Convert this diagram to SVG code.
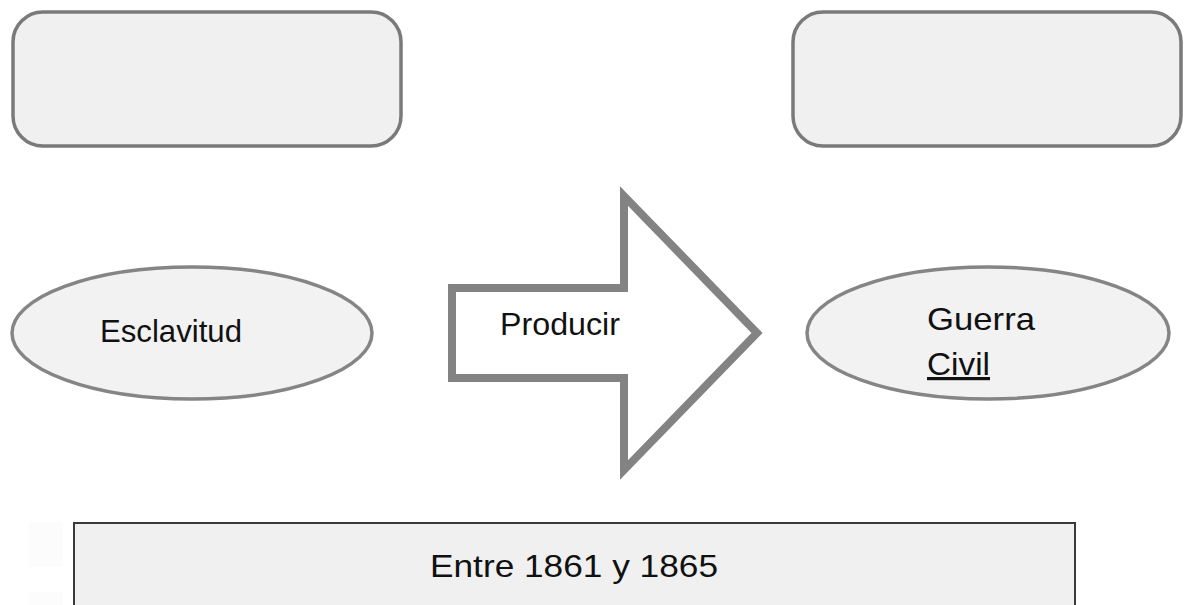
<svg xmlns="http://www.w3.org/2000/svg" width="1187" height="605" viewBox="0 0 1187 605">
  <style>
    .box { fill: #f0f0f0; stroke: #7a7a7a; stroke-width: 3.5; }
    .oval { fill: #f2f2f2; stroke: #858585; stroke-width: 3.5; }
    .arrow { fill: #ffffff; stroke: #838383; stroke-width: 8; stroke-linejoin: miter; }
    .band { fill: #f0f0f0; stroke: #3a3a3a; stroke-width: 2; }
    .lbl { font-family: "Liberation Sans", Arial, sans-serif; font-size: 32px; fill: #111111; }
  </style>

  <rect width="1187" height="605" fill="#ffffff"/>

  <!-- empty boxes along the top -->
  <g id="box-top-left">
    <rect class="box" x="13" y="12" width="388" height="134" rx="30" ry="30"/>
  </g>
  <g id="box-top-right">
    <rect class="box" x="793" y="12" width="388" height="134" rx="30" ry="30"/>
  </g>

  <!-- cause -->
  <g id="node-esclavitud">
    <ellipse class="oval" cx="192" cy="333" rx="180" ry="66"/>
    <text class="lbl" x="100" y="342" textLength="142" lengthAdjust="spacingAndGlyphs">Esclavitud</text>
  </g>

  <!-- block arrow linking cause and effect -->
  <g id="connectors">
    <g id="arrow-producir">
      <polygon class="arrow" points="452,288 624,288 624,196 757,333 624,470 624,378 452,378"/>
      <text class="lbl" x="500" y="335" textLength="120" lengthAdjust="spacingAndGlyphs">Producir</text>
    </g>
  </g>

  <!-- effect -->
  <g id="node-guerra-civil">
    <ellipse class="oval" cx="988" cy="333" rx="181" ry="66"/>
    <text class="lbl" x="927" y="330" textLength="108" lengthAdjust="spacingAndGlyphs">Guerra</text>
    <text class="lbl" x="927" y="375" textLength="63" lengthAdjust="spacingAndGlyphs" text-decoration="underline">Civil</text>
  </g>

  <!-- date band at the bottom -->
  <g id="node-fechas">
    <rect x="29" y="522" width="34" height="45" fill="#fcfcfc"/>
    <rect x="29" y="592" width="34" height="13" fill="#fcfcfc"/>
    <rect class="band" x="74" y="523" width="1001" height="90"/>
    <text class="lbl" x="430" y="577" textLength="288" lengthAdjust="spacingAndGlyphs">Entre 1861 y 1865</text>
  </g>
</svg>
